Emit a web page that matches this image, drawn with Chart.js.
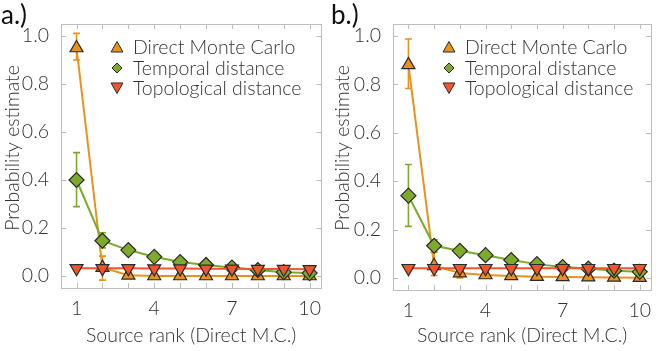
<!DOCTYPE html>
<html>
<head>
<meta charset="utf-8">
<script src="https://cdn.jsdelivr.net/npm/chart.js@4/dist/chart.umd.min.js"></script>
<style>
  html, body { margin: 0; padding: 0; background: #fff; }
  .panel { position: absolute; top: 0; width: 330px; height: 351px; }
</style>
</head>
<body>
<div class="panel" style="left:0"><canvas id="ca" width="330" height="351"></canvas></div>
<div class="panel" style="left:330px"><canvas id="cb" width="330" height="351"></canvas></div>
<script>
// ---------- data ----------
const ranks = [1, 2, 3, 4, 5, 6, 7, 8, 9, 10];
const xTickLabels = [1, 4, 7, 10];
const yTickValues = [0.0, 0.2, 0.4, 0.6, 0.8, 1.0];
const seriesNames = ["Direct Monte Carlo", "Temporal distance", "Topological distance"];
const xTitle = "Source rank (Direct M.C.)";
const yTitle = "Probability estimate";

// panel a
const aMonteCarlo     = [0.950, 0.035, 0.003, 0.000, 0.000, 0.000, 0.000, 0.000, 0.000, 0.000];
const aMonteCarloLow  = [0.900, -0.017, -0.005, -0.003, -0.003, -0.003, -0.003, -0.003, -0.003, -0.003];
const aMonteCarloHigh = [1.011, 0.083, 0.011, 0.003, 0.003, 0.003, 0.003, 0.003, 0.003, 0.003];
const aTemporal       = [0.400, 0.147, 0.108, 0.080, 0.058, 0.046, 0.035, 0.025, 0.016, 0.012];
const aTemporalLow    = [0.289, 0.117, 0.094, 0.070, 0.050, 0.040, 0.030, 0.020, 0.012, 0.008];
const aTemporalHigh   = [0.514, 0.180, 0.124, 0.091, 0.066, 0.053, 0.041, 0.031, 0.021, 0.017];
const aTopological    = [0.032, 0.032, 0.032, 0.031, 0.031, 0.030, 0.030, 0.029, 0.029, 0.028];

// panel b
const bMonteCarlo     = [0.881, 0.050, 0.020, 0.012, 0.008, 0.005, 0.004, 0.003, 0.002, 0.001];
const bMonteCarloLow  = [0.783, 0.010, 0.000, 0.004, 0.002, 0.000, 0.000, 0.000, -0.001, -0.002];
const bMonteCarloHigh = [0.988, 0.105, 0.040, 0.020, 0.014, 0.010, 0.008, 0.006, 0.005, 0.004];
const bTemporal       = [0.340, 0.133, 0.112, 0.094, 0.074, 0.057, 0.045, 0.039, 0.030, 0.025];
const bTemporalLow    = [0.213, 0.107, 0.096, 0.082, 0.064, 0.050, 0.040, 0.034, 0.025, 0.020];
const bTemporalHigh   = [0.469, 0.158, 0.128, 0.106, 0.084, 0.064, 0.050, 0.044, 0.035, 0.030];
const bTopological    = [0.040, 0.040, 0.040, 0.040, 0.040, 0.040, 0.040, 0.040, 0.040, 0.040];

// ---------- styles ----------
const COL_MC = "#E8921C";
const COL_TEMP = "#7DAA2B";
const COL_TOPO = "#F2552C";
const EDGE = "#2a2a2a";
const FONT = "Lato, 'Open Sans', sans-serif";
const TXT = "#333333";

function trianglePath(ctx, x, y, r, down) {
  ctx.beginPath();
  const s = down ? -1 : 1;
  ctx.moveTo(x, y - s * r);
  ctx.lineTo(x + r * 0.92, y + s * r * 0.62);
  ctx.lineTo(x - r * 0.92, y + s * r * 0.62);
  ctx.closePath();
}
function diamondPath(ctx, x, y, r) {
  ctx.beginPath();
  ctx.moveTo(x, y - r); ctx.lineTo(x + r, y); ctx.lineTo(x, y + r); ctx.lineTo(x - r, y);
  ctx.closePath();
}

const framePlugin = {
  id: "frame",
  beforeDatasetsDraw(chart) {
    const { ctx, scales } = chart;
    ctx.save();
    (chart.options.plugins.frame.errors || []).forEach(e => {
      ctx.strokeStyle = e.color;
      ctx.lineWidth = 1.6;
      e.low.forEach((lo, i) => {
        const x = scales.x.getPixelForValue(ranks[i]);
        const y1 = scales.y.getPixelForValue(lo);
        const y2 = scales.y.getPixelForValue(e.high[i]);
        if (Math.abs(y1 - y2) < 2) return;
        ctx.beginPath();
        ctx.moveTo(x, y1); ctx.lineTo(x, y2);
        ctx.moveTo(x - 3.5, y1); ctx.lineTo(x + 3.5, y1);
        ctx.moveTo(x - 3.5, y2); ctx.lineTo(x + 3.5, y2);
        ctx.stroke();
      });
    });
    ctx.restore();
  },
  afterDraw(chart) {
    const { ctx, chartArea: a, scales } = chart;
    const opts = chart.options.plugins.frame;
    ctx.save();
    ctx.strokeStyle = "#bdbdbd";
    ctx.lineWidth = 1;
    ctx.strokeRect(Math.round(a.left) + 0.5, Math.round(a.top) + 0.5,
                   Math.round(a.right - a.left), Math.round(a.bottom - a.top));
    ctx.beginPath();
    ranks.forEach(v => {
      const x = Math.round(scales.x.getPixelForValue(v)) + 0.5;
      ctx.moveTo(x, a.bottom); ctx.lineTo(x, a.bottom - 5);
      ctx.moveTo(x, a.top); ctx.lineTo(x, a.top + 5);
    });
    yTickValues.forEach(v => {
      const y = Math.round(scales.y.getPixelForValue(v)) + 0.5;
      ctx.moveTo(a.left, y); ctx.lineTo(a.left + 5, y);
      ctx.moveTo(a.right, y); ctx.lineTo(a.right - 5, y);
    });
    ctx.stroke();
    // panel letter
    ctx.fillStyle = "#111";
    ctx.font = "26px " + FONT;
    ctx.textBaseline = "alphabetic";
    ctx.textAlign = "left";
    ctx.fillText(opts.letter, 1, 24);
    // y title
    ctx.save();
    ctx.translate(13, 148);
    ctx.rotate(-Math.PI / 2);
    ctx.font = "300 19.5px " + FONT;
    ctx.fillStyle = TXT;
    ctx.textAlign = "center";
    ctx.textBaseline = "middle";
    ctx.fillText(yTitle, 0, 0);
    ctx.restore();
    // legend
    const lx = a.left + 56, tx = a.left + 72;
    const rows = [a.top + 23, a.top + 44, a.top + 64];
    ctx.font = "300 19.5px " + FONT;
    ctx.textAlign = "left";
    ctx.textBaseline = "middle";
    ctx.lineWidth = 1;
    ctx.strokeStyle = EDGE;
    ctx.fillStyle = COL_MC; trianglePath(ctx, lx, rows[0] + 1, 6.5, false); ctx.fill(); ctx.stroke();
    ctx.fillStyle = COL_TEMP; diamondPath(ctx, lx, rows[1], 5); ctx.fill(); ctx.stroke();
    ctx.fillStyle = COL_TOPO; trianglePath(ctx, lx, rows[2] - 1, 6.5, true); ctx.fill(); ctx.stroke();
    ctx.fillStyle = TXT;
    seriesNames.forEach((n, i) => ctx.fillText(n, tx, rows[i] + 1));
    ctx.restore();
  }
};

function makeChart(id, letter, mc, mcLo, mcHi, te, teLo, teHi, to, xmin, xmax, yAxisW, xAxisH) {
  const f = { family: FONT, size: 19.5, weight: 300 };
  return new Chart(document.getElementById(id), {
    type: "line",
    data: {
      labels: ranks,
      datasets: [
        { label: seriesNames[0], data: ranks.map((r, i) => ({ x: r, y: mc[i] })), order: 3,
          borderColor: COL_MC, borderWidth: 2, backgroundColor: COL_MC,
          pointStyle: "triangle", pointRadius: 7.5, pointBackgroundColor: COL_MC,
          pointBorderColor: EDGE, pointBorderWidth: 1.2 },
        { label: seriesNames[1], data: ranks.map((r, i) => ({ x: r, y: te[i] })), order: 2,
          borderColor: COL_TEMP, borderWidth: 2, backgroundColor: COL_TEMP,
          pointStyle: "rectRot", pointRadius: 7.5, pointBackgroundColor: COL_TEMP,
          pointBorderColor: EDGE, pointBorderWidth: 1.2 },
        { label: seriesNames[2], data: ranks.map((r, i) => ({ x: r, y: to[i] })), order: 1,
          borderColor: COL_TOPO, borderWidth: 2, backgroundColor: COL_TOPO,
          pointStyle: "triangle", pointRotation: 180, pointRadius: 7.5, pointBackgroundColor: COL_TOPO,
          pointBorderColor: EDGE, pointBorderWidth: 1.2 }
      ]
    },
    options: {
      responsive: false,
      animation: false,
      events: [],
      layout: { padding: { left: 0, top: 24, right: 5, bottom: 0 } },
      plugins: {
        legend: { display: false },
        tooltip: { enabled: false },
        frame: {
          letter: letter,
          errors: [
            { color: COL_MC, low: mcLo, high: mcHi },
            { color: COL_TEMP, low: teLo, high: teHi }
          ]
        }
      },
      scales: {
        x: {
          type: "linear", min: xmin, max: xmax,
          afterBuildTicks: s => { s.ticks = xTickLabels.map(v => ({ value: v })); },
          afterFit: s => { s.height = xAxisH; },
          grid: { display: false }, border: { display: false },
          ticks: { color: TXT, font: f, padding: 1, maxRotation: 0 },
          title: { display: true, text: xTitle, color: TXT, font: f, padding: { top: 0 } }
        },
        y: {
          type: "linear", min: -0.05, max: 1.05,
          afterBuildTicks: s => { s.ticks = yTickValues.map(v => ({ value: v })); },
          afterFit: s => { s.width = yAxisW; },
          grid: { display: false }, border: { display: false },
          ticks: { color: TXT, font: f, padding: 4, callback: v => v.toFixed(1) },
          title: { display: false }
        }
      }
    },
    plugins: [framePlugin]
  });
}

makeChart("ca", "a.)", aMonteCarlo, aMonteCarloLow, aMonteCarloHigh,
          aTemporal, aTemporalLow, aTemporalHigh, aTopological, 0.4, 10.45, 61, 63);
makeChart("cb", "b.)", bMonteCarlo, bMonteCarloLow, bMonteCarloHigh,
          bTemporal, bTemporalLow, bTemporalHigh, bTopological, 0.4, 10.45, 63, 61);
</script>
</body>
</html>
